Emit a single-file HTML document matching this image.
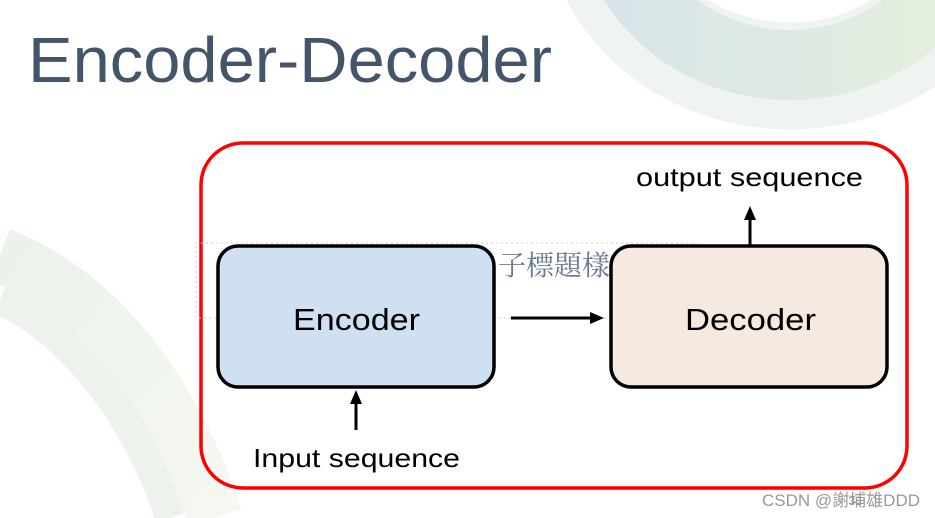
<!DOCTYPE html>
<html><head><meta charset="utf-8"><style>
html,body{margin:0;padding:0;background:#fff;}
svg{display:block;}
</style></head><body>
<svg width="935" height="518" viewBox="0 0 935 518" xmlns="http://www.w3.org/2000/svg">
<defs>
<linearGradient id="g1" x1="0" y1="0" x2="1" y2="0">
<stop offset="0" stop-color="#d3e0e8"/><stop offset="0.6" stop-color="#dbe8de"/><stop offset="1" stop-color="#e3efd8"/>
</linearGradient>
<linearGradient id="g2" x1="0" y1="0" x2="1" y2="1">
<stop offset="0" stop-color="#e3ebe4"/><stop offset="1" stop-color="#f0f5ea"/>
</linearGradient>
</defs>
<ellipse cx="790" cy="-100" rx="195" ry="176" fill="none" stroke="#f0f4f0" stroke-width="107"/>
<ellipse cx="790" cy="-100" rx="180" ry="165" fill="none" stroke="url(#g1)" stroke-width="70" opacity="0.8"/>
<path d="M0 255 C90 290 170 380 215 518" fill="none" stroke="url(#g2)" stroke-width="55" opacity="0.7"/>
<path d="M0 300 C70 330 140 420 170 518" fill="none" stroke="#eef2ec" stroke-width="30"/>
<text x="28" y="82" font-family="Liberation Sans, sans-serif" font-size="64" fill="#44546a" textLength="524" lengthAdjust="spacingAndGlyphs">Encoder-Decoder</text>
<rect x="201" y="143" width="706" height="345" rx="42" fill="none" stroke="#ff0000" stroke-width="3.5"/>
<rect x="196" y="243" width="500" height="75" fill="none" stroke="#cfcfcf" stroke-dasharray="2,3" stroke-width="1"/>
<text x="498" y="275" font-family="Liberation Serif, Noto Serif CJK SC, serif" font-size="28" fill="#6b7a90">子標題樣</text>
<rect x="218" y="246" width="276" height="141" rx="20" fill="#cfe0f2" stroke="#000" stroke-width="3.5"/>
<rect x="611" y="246" width="276" height="141" rx="20" fill="#f6e9df" stroke="#000" stroke-width="3.5"/>
<text x="293" y="330" font-family="Liberation Sans, sans-serif" font-size="31" fill="#000" textLength="127" lengthAdjust="spacingAndGlyphs">Encoder</text>
<text x="685" y="330" font-family="Liberation Sans, sans-serif" font-size="31" fill="#000" textLength="131" lengthAdjust="spacingAndGlyphs">Decoder</text>
<line x1="511" y1="318" x2="592" y2="318" stroke="#000" stroke-width="3"/>
<polygon points="604,318 590,312 590,324" fill="#000"/>
<line x1="356" y1="430" x2="356" y2="402" stroke="#000" stroke-width="3"/>
<polygon points="356,390 350,404 362,404" fill="#000"/>
<line x1="750" y1="245" x2="750" y2="218" stroke="#000" stroke-width="3"/>
<polygon points="750,206 744,220 756,220" fill="#000"/>
<text x="636" y="186" font-family="Liberation Sans, sans-serif" font-size="26" fill="#000" textLength="227" lengthAdjust="spacingAndGlyphs">output sequence</text>
<text x="253" y="467" font-family="Liberation Sans, sans-serif" font-size="26" fill="#000" textLength="207" lengthAdjust="spacingAndGlyphs">Input sequence</text>
<text x="855" y="505" text-anchor="middle" font-family="Liberation Sans, sans-serif" font-size="12" fill="#888">38</text>
<text x="920" y="506" text-anchor="end" font-family="Liberation Sans, Noto Sans CJK SC, sans-serif" font-size="17" fill="#999">CSDN @謝埔雄DDD</text>
</svg>
</body></html>
